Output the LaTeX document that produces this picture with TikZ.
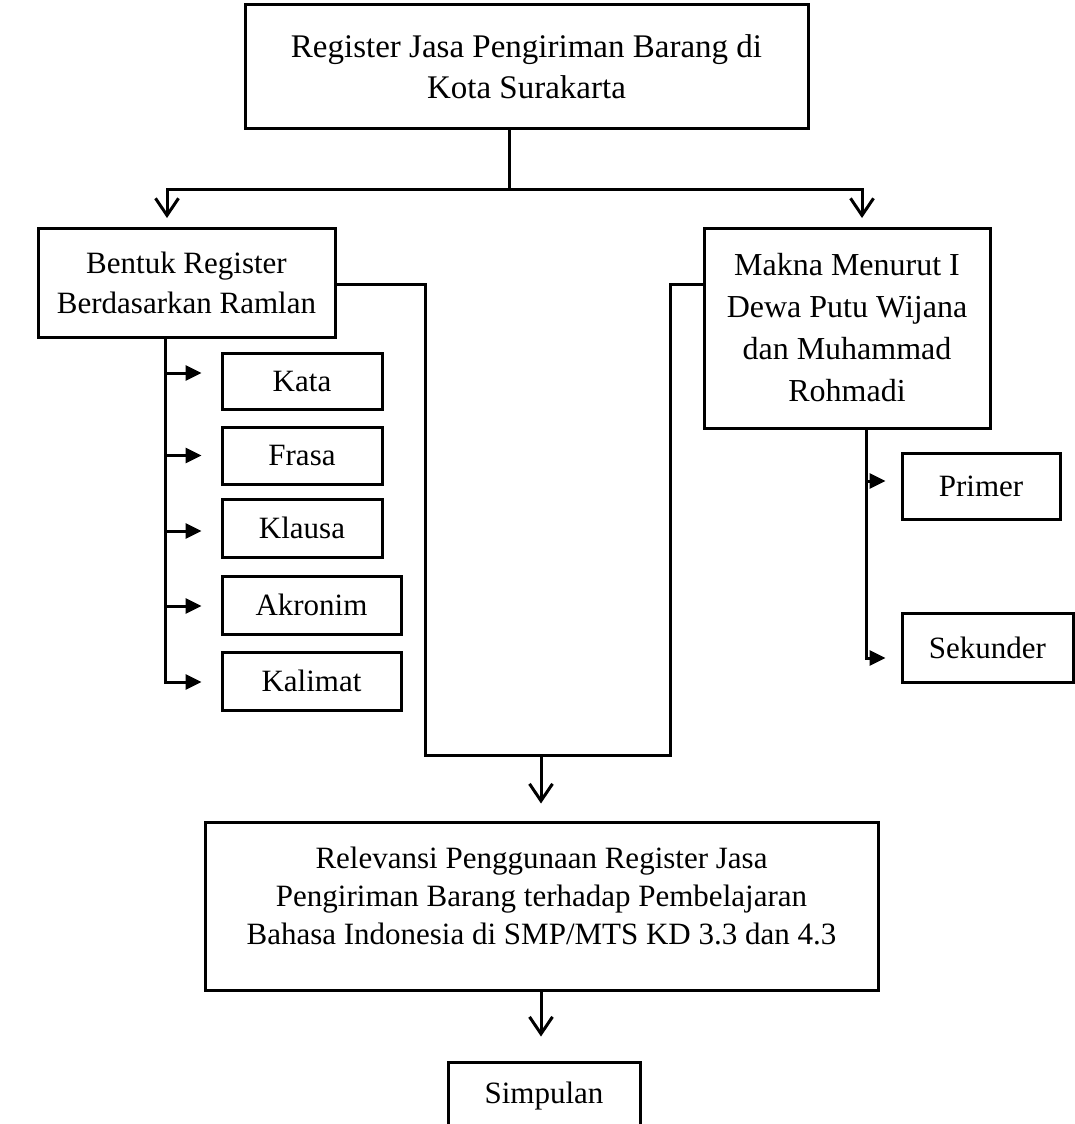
\documentclass[tikz,border=0pt]{standalone}
\usepackage{fontspec}
\setmainfont{Liberation Serif}
\usetikzlibrary{arrows.meta}
\begin{document}
\begin{tikzpicture}[x=1pt,y=-1pt,
  box/.style={draw, line width=3pt, align=center, font=\fontsize{31}{40}\selectfont, inner sep=0pt},
  conn/.style={line width=3pt},
  down/.style={conn, -{Straight Barb[length=17pt,width=23pt]}},
  tri/.style={conn, -{Triangle[length=16pt,width=15pt]}}]
\clip (0,0) rectangle (1075,1124);
% boxes
\node[box, font=\fontsize{33}{41}\selectfont, minimum width=563pt, minimum height=123pt] (top) at (526.5,66.5) {Register Jasa Pengiriman Barang di\\Kota Surakarta};
\node[box, minimum width=297pt, minimum height=109pt] (left) at (186.5,282.5) {Bentuk Register\\Berdasarkan Ramlan};
\node[box, font=\fontsize{32}{42}\selectfont, minimum width=286pt, minimum height=200pt] (right) at (847,328) {Makna Menurut I\\Dewa Putu Wijana\\dan Muhammad\\Rohmadi};
\node[box, minimum width=160pt, minimum height=56pt] (kata) at (302,381) {Kata};
\node[box, minimum width=160pt, minimum height=57pt] (frasa) at (302,455.5) {Frasa};
\node[box, minimum width=160pt, minimum height=58pt] (klausa) at (302,528) {Klausa};
\node[box, minimum width=179pt, minimum height=58pt] (akronim) at (311.5,605) {Akronim};
\node[box, minimum width=179pt, minimum height=58pt] (kalimat) at (311.5,681) {Kalimat};
\node[box, minimum width=158pt, minimum height=66pt] (primer) at (981,486) {Primer};
\node[box, minimum width=171pt, minimum height=69pt] (sekunder) at (987.5,647.5) {Sekunder};
\node[box, minimum width=673pt, minimum height=168pt,
  label={[align=center, font=\fontsize{31}{38}\selectfont, yshift=10pt]center:Relevansi Penggunaan Register Jasa\\Pengiriman Barang terhadap Pembelajaran\\Bahasa Indonesia di SMP/MTS KD 3.3 dan 4.3}] (rel) at (541.5,906) {};
\node[box, anchor=base, minimum width=192pt, text height=22pt, text depth=60pt, inner ysep=19pt] (simp) at (544,1103) {Simpulan};
% top split
\coordinate (split) at (509,189);
\coordinate (dl) at (167,218);
\coordinate (dr) at (862,218);
\draw[conn] (top.south -| split) -- (split);
\draw[down] (split) -| (dl);
\draw[down] (split) -| (dr);
% left trunk
\coordinate (lt) at (165,0);
\coordinate (ka) at ([xshift=-19pt,yshift=8pt]kata.west);
\coordinate (fa) at ([xshift=-19pt]frasa.west);
\coordinate (kla) at ([xshift=-19pt,yshift=-3pt]klausa.west);
\coordinate (aa) at ([xshift=-19pt,yshift=-1pt]akronim.west);
\coordinate (kma) at ([xshift=-19pt,yshift=-1pt]kalimat.west);
\draw[tri] (left.south -| lt) |- (kma);
\draw[tri] (lt |- ka) -- (ka);
\draw[tri] (lt |- fa) -- (fa);
\draw[tri] (lt |- kla) -- (kla);
\draw[tri] (lt |- aa) -- (aa);
% right trunk
\coordinate (rt) at (866,0);
\coordinate (pa) at ([xshift=-15pt,yshift=5pt]primer.west);
\coordinate (sa) at ([xshift=-15pt,yshift=-10.5pt]sekunder.west);
\draw[tri] (right.south -| rt) |- (sa);
\draw[tri] (rt |- pa) -- (pa);
% merge
\coordinate (jy) at (0,284);
\coordinate (ml) at (425,755);
\coordinate (mr) at (670,755);
\coordinate (mm) at (541,755);
\draw[conn] (left.east |- jy) -| (ml) -- (mr) |- (right.west |- jy);
\draw[down, shorten >=17pt] (mm) -- (mm |- rel.north);
\draw[down, shorten >=24pt] (rel.south -| mm) -- (simp.north -| mm);
\end{tikzpicture}
\end{document}
